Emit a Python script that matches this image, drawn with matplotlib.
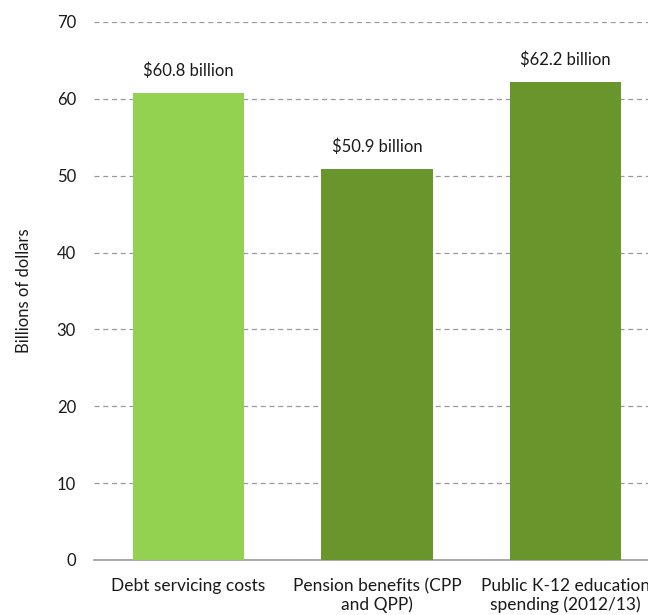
import matplotlib.pyplot as plt

plt.rcParams['font.family'] = ['Lato', 'DejaVu Sans']

categories = ["Debt servicing costs", "Pension benefits (CPP\nand QPP)",
              "Public K-12 education\nspending (2012/13)"]
values = [60.8, 50.9, 62.2]
labels = ["$60.8 billion", "$50.9 billion", "$62.2 billion"]
colors = ["#93d150", "#68962c", "#68962c"]
yticks = [0, 10, 20, 30, 40, 50, 60, 70]

fig = plt.figure(figsize=(6.48, 6.15), dpi=100)
# axes runs a bit past the right edge of the figure
ax = fig.add_axes([94 / 648, 55 / 615, 566 / 648, 538 / 615])

x = list(range(len(categories)))
ax.bar(x, values, width=0.59, color=colors, zorder=3)

for xi, v, lab in zip(x, values, labels):
    ax.annotate(lab, (xi, v), xytext=(0, 10), textcoords="offset points",
                ha="center", va="bottom", fontsize=12, color="#1a1a1a")

ax.set_xlim(-0.5, 2.5)
ax.set_ylim(0, 70)
ax.set_yticks(yticks)
ax.set_xticks(x)
ax.set_xticklabels(categories, fontsize=12.5, color="#1a1a1a", linespacing=1.15)
ax.tick_params(axis="y", length=0, pad=13, labelsize=12, labelcolor="#1a1a1a")
ax.tick_params(axis="x", length=0, pad=13)

ax.yaxis.grid(True, linestyle=(0, (4, 3)), color="#999999", linewidth=0.9, zorder=0)
for s in ["top", "right", "left"]:
    ax.spines[s].set_visible(False)
ax.spines["bottom"].set_color("#999999")
ax.spines["bottom"].set_linewidth(1.2)

ax.set_ylabel("Billions of dollars", fontsize=12, color="#1a1a1a", labelpad=18)

fig.savefig("out.png", dpi=100)
